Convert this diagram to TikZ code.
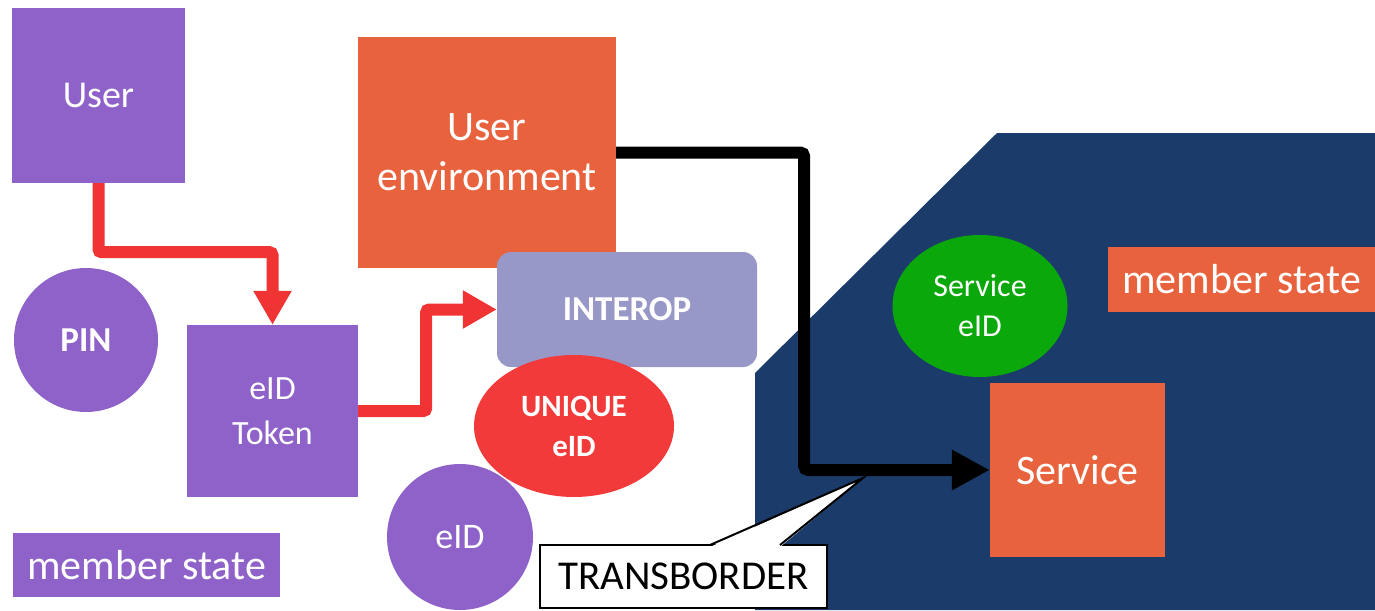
\documentclass[tikz,border=0pt]{standalone}
\usepackage{fontspec}
\setmainfont{Carlito}
\usepackage[dvipsnames]{xcolor}
\usetikzlibrary{arrows.meta,shapes.geometric}

\definecolor{purp}{HTML}{8E62C8}
\definecolor{orng}{HTML}{E8623D}
\definecolor{arrred}{HTML}{F03434}
\definecolor{uniqred}{HTML}{F23A3A}
\definecolor{interopblue}{HTML}{9898C8}
\definecolor{navy}{HTML}{1B3C6A}
\definecolor{eidgreen}{HTML}{0AA80A}

\begin{document}
\begin{tikzpicture}[x=1pt,y=-1pt,
    box/.style={rectangle,inner sep=0pt,text=white,align=center},
    blob/.style={ellipse,inner sep=0pt,text=white,align=center},
    big/.style={font=\fontsize{42}{50}\selectfont},
    mid/.style={font=\fontsize{36}{44}\selectfont},
    small/.style={font=\fontsize{32}{40}\selectfont},
    redline/.style={draw=arrred,line width=12pt,rounded corners=3pt,-{Triangle[length=34pt,width=36pt]}},
    blackline/.style={draw=black,line width=12pt,rounded corners=4pt,-{Triangle[length=38pt,width=38pt]}}]

    \useasboundingbox (0,0) rectangle (1375,610);

    % the other member state
    \fill[navy] (755,610) -- (755,373) -- (997,133) -- (1375,133) -- (1375,610) -- cycle;

    \node[box, fill=purp, minimum width=173pt, minimum height=175pt, font=\fontsize{38}{46}\selectfont] (user) at (98.5,95.5) {User};
    \node[box, fill=orng, minimum width=258pt, minimum height=231pt, big] (env) at (487,152.5) {User\\environment};
    \node[blob, fill=purp, minimum width=144pt, minimum height=144pt, font={\fontsize{35}{42}\selectfont\bfseries}] (pin) at (86,340) {PIN};
    \node[box, fill=purp, minimum width=171pt, minimum height=172pt, font=\fontsize{34}{45}\selectfont] (token) at (272.5,411) {eID\\Token};
    \node[box, fill=interopblue, rounded corners=14pt, minimum width=260pt, minimum height=115pt, font={\fontsize{35}{42}\selectfont\bfseries}] (interop) at (627,309.5) {INTEROP};
    \node[blob, fill=uniqred, minimum width=200pt, minimum height=142pt, font={\fontsize{31}{40}\selectfont\bfseries}] (unique) at (574,426) {UNIQUE\\eID};
    \node[blob, fill=purp, minimum width=146pt, minimum height=146pt, mid] (eid) at (460,537) {eID};
    \node[box, fill=purp, minimum width=267pt, minimum height=64pt, big] (msleft) at (146.5,565) {member state};

    \node[blob, fill=eidgreen, minimum width=175pt, minimum height=142pt, small] (serveid) at (980,306) {Service\\eID};
    \node[box, fill=orng, minimum width=175pt, minimum height=174pt, big] (service) at (1077.5,470) {Service};
    \node[box, fill=orng, minimum width=267pt, minimum height=65pt, big] (msright) at (1241.5,279.5) {member state};

    \draw[redline] (user.south) -- ++(0,69) -| (token.north);
    \draw[redline] (token.east) -- ++(68,0) |- (interop.west);
    \draw[blackline] (env.east) -- ++(188,0) |- (service.west);

    % callout
    \node[rectangle, draw=black, fill=white, line width=2.5pt, inner sep=0pt, minimum width=287pt, minimum height=63pt, font=\fontsize{41}{49}\selectfont] (trans) at (683.5,576.5) {TRANSBORDER};
    \coordinate (tip) at (863,478);
    \coordinate (tl) at (710,545);
    \coordinate (tr) at (780,545);
    \fill[white] ([yshift=-2pt]tl) -- (tip) -- ([yshift=-2pt]tr) -- cycle;
    \draw[line width=2pt] (tl) -- (tip) -- (tr);

\end{tikzpicture}
\end{document}
